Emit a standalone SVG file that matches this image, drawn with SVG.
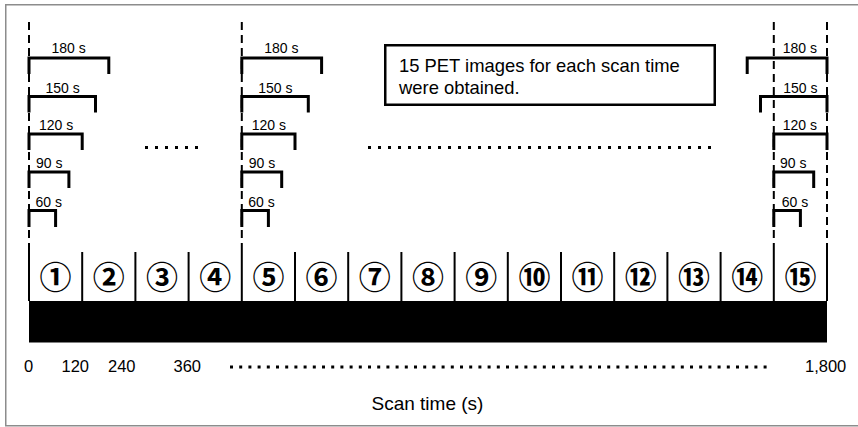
<svg xmlns="http://www.w3.org/2000/svg" width="858" height="427" viewBox="0 0 858 427">
  <style>
    .frame { fill: #ffffff; stroke: #8c8c8c; stroke-width: 1.5; }
    .guide { fill: none; stroke: #000; stroke-width: 2; stroke-dasharray: 8 5; }
    .bracket { fill: none; stroke: #000; stroke-width: 3; stroke-linejoin: miter; stroke-linecap: butt; }
    .divider { stroke: #000; stroke-width: 2; }
    .dots { fill: none; stroke: #000; stroke-width: 3; }
    .lbl { font-family: "Liberation Sans", Arial, sans-serif; font-size: 14px; fill: #000; }
    .axis { font-family: "Liberation Sans", Arial, sans-serif; font-size: 16.5px; fill: #000; }
    .note { font-family: "Liberation Sans", Arial, sans-serif; font-size: 18.4px; fill: #000; }
    .title { font-family: "Liberation Sans", Arial, sans-serif; font-size: 19px; fill: #000; }
    .seg { font-family: "Noto Sans CJK JP", "DejaVu Sans", sans-serif; font-size: 32px; font-weight: bold; fill: #000; text-anchor: middle; }
  </style>

  <!-- outer frame -->
  <rect class="frame" x="5.75" y="4.75" width="860" height="421"/>

  <!-- time bar with 15 frames of 120 s -->
  <g id="timebar">
    <rect x="29" y="301" width="798" height="41.5" fill="#000"/>
    <g class="divider">
      <line x1="29" y1="245" x2="29" y2="301"/>
      <line x1="82.2" y1="252" x2="82.2" y2="301"/>
      <line x1="135.4" y1="252" x2="135.4" y2="301"/>
      <line x1="188.6" y1="252" x2="188.6" y2="301"/>
      <line x1="241.8" y1="245" x2="241.8" y2="301"/>
      <line x1="295" y1="252" x2="295" y2="301"/>
      <line x1="348.2" y1="252" x2="348.2" y2="301"/>
      <line x1="401.4" y1="252" x2="401.4" y2="301"/>
      <line x1="454.6" y1="252" x2="454.6" y2="301"/>
      <line x1="507.8" y1="252" x2="507.8" y2="301"/>
      <line x1="561" y1="252" x2="561" y2="301"/>
      <line x1="614.2" y1="252" x2="614.2" y2="301"/>
      <line x1="667.4" y1="252" x2="667.4" y2="301"/>
      <line x1="720.6" y1="252" x2="720.6" y2="301"/>
      <line x1="773.8" y1="245" x2="773.8" y2="301"/>
      <line x1="827" y1="245" x2="827" y2="301"/>
    </g>
  </g>

  <!-- frame numbers -->
  <g id="frames">
    <text class="seg" x="55.6" y="289">①</text>
    <text class="seg" x="108.8" y="289">②</text>
    <text class="seg" x="162" y="289">③</text>
    <text class="seg" x="215.2" y="289">④</text>
    <text class="seg" x="268.4" y="289">⑤</text>
    <text class="seg" x="321.6" y="289">⑥</text>
    <text class="seg" x="374.8" y="289">⑦</text>
    <text class="seg" x="428" y="289">⑧</text>
    <text class="seg" x="481.2" y="289">⑨</text>
    <text class="seg" x="534.4" y="289">⑩</text>
    <text class="seg" x="587.6" y="289">⑪</text>
    <text class="seg" x="640.8" y="289">⑫</text>
    <text class="seg" x="694" y="289">⑬</text>
    <text class="seg" x="747.2" y="289">⑭</text>
    <text class="seg" x="800.4" y="289">⑮</text>
  </g>

  <!-- connectors: dashed guides and scan-time brackets -->
  <g id="connectors">
    <line class="guide" x1="29" y1="22" x2="29" y2="245"/>
    <line class="guide" x1="241.8" y1="22" x2="241.8" y2="245"/>
    <line class="guide" x1="773.8" y1="22" x2="773.8" y2="245"/>
    <line class="guide" x1="827" y1="22" x2="827" y2="245"/>

    <!-- brackets starting at 0 s -->
    <path class="bracket" d="M29,74 V58 H108.8 V74"/>
    <path class="bracket" d="M29,112.5 V96.5 H95.5 V112.5"/>
    <path class="bracket" d="M29,150 V134 H82.2 V150"/>
    <path class="bracket" d="M29,188 V172 H68.9 V188"/>
    <path class="bracket" d="M29,227 V210.5 H55.6 V227"/>

    <!-- brackets starting at 480 s -->
    <path class="bracket" d="M241.8,74 V58 H321.6 V74"/>
    <path class="bracket" d="M241.8,112.5 V96.5 H308.3 V112.5"/>
    <path class="bracket" d="M241.8,150 V134 H295 V150"/>
    <path class="bracket" d="M241.8,188 V172 H281.7 V188"/>
    <path class="bracket" d="M241.8,227 V210.5 H268.4 V227"/>

    <!-- brackets of the last frame -->
    <path class="bracket" d="M747.2,74 V58 H827 V74"/>
    <path class="bracket" d="M760.5,112.5 V96.5 H827 V112.5"/>
    <path class="bracket" d="M773.8,150 V134 H827 V150"/>
    <path class="bracket" d="M773.8,188 V172 H813.7 V188"/>
    <path class="bracket" d="M773.8,227 V210.5 H800.4 V227"/>

    <!-- ellipsis rows -->
    <line class="dots" x1="145" y1="147.5" x2="199" y2="147.5" stroke-dasharray="3 7"/>
    <line class="dots" x1="368" y1="147.5" x2="712" y2="147.5" stroke-dasharray="3 7"/>
    <line class="dots" x1="230" y1="367" x2="767" y2="367" stroke-dasharray="3 6.2"/>
  </g>

  <!-- bracket labels -->
  <g id="labels">
    <text class="lbl" x="51.5" y="53">180 s</text>
    <text class="lbl" x="45.5" y="92.5">150 s</text>
    <text class="lbl" x="39" y="130">120 s</text>
    <text class="lbl" x="36" y="168">90 s</text>
    <text class="lbl" x="35.5" y="206.5">60 s</text>

    <text class="lbl" x="264.3" y="53">180 s</text>
    <text class="lbl" x="258.3" y="92.5">150 s</text>
    <text class="lbl" x="251.8" y="130">120 s</text>
    <text class="lbl" x="248.8" y="168">90 s</text>
    <text class="lbl" x="248.3" y="206.5">60 s</text>

    <text class="lbl" x="782.7" y="53">180 s</text>
    <text class="lbl" x="783.3" y="92.5">150 s</text>
    <text class="lbl" x="782.7" y="130">120 s</text>
    <text class="lbl" x="780" y="168">90 s</text>
    <text class="lbl" x="781.7" y="206.5">60 s</text>
  </g>

  <!-- note box -->
  <g id="note">
    <rect x="385.25" y="45.25" width="329.5" height="59.5" fill="#fff" stroke="#000" stroke-width="2.5"/>
    <text class="note" x="399" y="71.5">15 PET images for each scan time</text>
    <text class="note" x="399" y="94">were obtained.</text>
  </g>

  <!-- time axis -->
  <g id="axis">
    <text class="axis" x="24" y="372">0</text>
    <text class="axis" x="61.5" y="372">120</text>
    <text class="axis" x="108" y="372">240</text>
    <text class="axis" x="173.5" y="372">360</text>
    <text class="axis" x="805" y="372">1,800</text>
    <text class="title" x="371.5" y="410">Scan time (s)</text>
  </g>
</svg>
